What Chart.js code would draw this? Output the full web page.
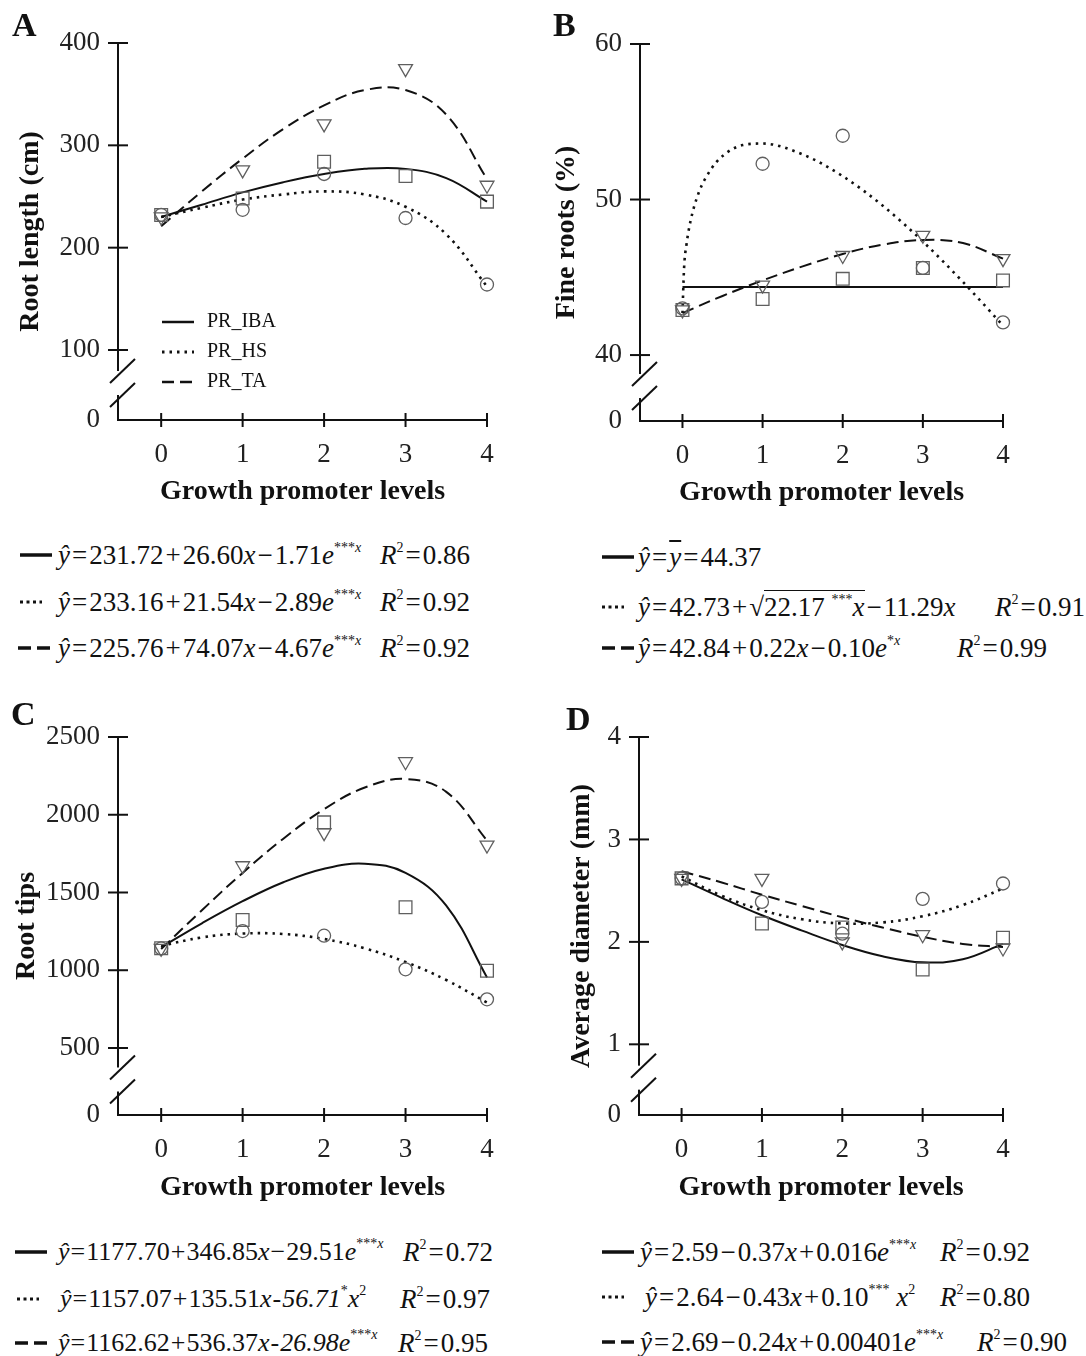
<!DOCTYPE html>
<html>
<head>
<meta charset="utf-8">
<script src="https://cdn.jsdelivr.net/npm/chart.js@4.4.1/dist/chart.umd.min.js"></script>
<style>
  body { margin: 0; background: #fff; }
  #fig { position: relative; width: 1086px; height: 1356px; font-family: 'Liberation Serif', 'Times New Roman', serif; color: #111; overflow: hidden; }
  canvas { position: absolute; }
  .tag { position: absolute; font-size: 34px; font-weight: bold; line-height: 34px; z-index: 2; }
  .eq { position: absolute; font-size: 27px; line-height: 30px; white-space: nowrap; }
  .eq.long { font-size: 26px; }
  .eq sup { font-size: 14px; line-height: 0; vertical-align: 12px; }
  .op { margin: 0 2px; }
  .long .op { margin: 0 1px; }
  .root { border-top: 1.5px solid #111; padding-top: 1px; }
  .smp { position: absolute; }
</style>
</head>
<body>
<div id="fig">
  <canvas id="chartA" width="545" height="520" style="left:0;top:0"></canvas>
  <canvas id="chartB" width="546" height="520" style="left:540px;top:0"></canvas>
  <canvas id="chartC" width="545" height="520" style="left:0;top:690px"></canvas>
  <canvas id="chartD" width="546" height="520" style="left:540px;top:690px"></canvas>

  <div class="tag" style="left:12px;top:8px">A</div>
  <div class="tag" style="left:553px;top:8px">B</div>
  <div class="tag" style="left:11px;top:697px">C</div>
  <div class="tag" style="left:566px;top:702px">D</div>

  <!-- A equations -->
  <div class="eq" style="left:58px;top:540px"><i>ŷ</i><span class="op">=</span>231.72<span class="op">+</span>26.60<i>x</i><span class="op">−</span>1.71<i>e</i><sup>***<i>x</i></sup></div>
  <div class="eq" style="left:380px;top:540px"><i>R</i><sup>2</sup><span class="op">=</span>0.86</div>
  <div class="eq" style="left:58px;top:587px"><i>ŷ</i><span class="op">=</span>233.16<span class="op">+</span>21.54<i>x</i><span class="op">−</span>2.89<i>e</i><sup>***<i>x</i></sup></div>
  <div class="eq" style="left:380px;top:587px"><i>R</i><sup>2</sup><span class="op">=</span>0.92</div>
  <div class="eq" style="left:58px;top:633px"><i>ŷ</i><span class="op">=</span>225.76<span class="op">+</span>74.07<i>x</i><span class="op">−</span>4.67<i>e</i><sup>***<i>x</i></sup></div>
  <div class="eq" style="left:380px;top:633px"><i>R</i><sup>2</sup><span class="op">=</span>0.92</div>

  <!-- B equations -->
  <div class="eq" style="left:638px;top:542px"><i>ŷ</i><span class="op">=</span><i style="text-decoration:overline">y</i><span class="op">=</span>44.37</div>
  <div class="eq" style="left:638px;top:592px"><i>ŷ</i><span class="op">=</span>42.73<span class="op">+</span>√<span class="root">22.17 <sup>***</sup><i>x</i></span><span class="op">−</span>11.29<i>x</i></div>
  <div class="eq" style="left:995px;top:592px"><i>R</i><sup>2</sup><span class="op">=</span>0.91</div>
  <div class="eq" style="left:638px;top:633px"><i>ŷ</i><span class="op">=</span>42.84<span class="op">+</span>0.22<i>x</i><span class="op">−</span>0.10<i>e</i><sup>*<i>x</i></sup></div>
  <div class="eq" style="left:957px;top:633px"><i>R</i><sup>2</sup><span class="op">=</span>0.99</div>

  <!-- C equations -->
  <div class="eq long" style="left:58px;top:1237px"><i>ŷ</i><span class="op">=</span>1177.70<span class="op">+</span>346.85<i>x</i><span class="op">−</span>29.51<i>e</i><sup>***<i>x</i></sup></div>
  <div class="eq" style="left:403px;top:1237px"><i>R</i><sup>2</sup><span class="op">=</span>0.72</div>
  <div class="eq long" style="left:60px;top:1284px"><i>ŷ</i><span class="op">=</span>1157.07<span class="op">+</span>135.51<i>x</i><span class="op">-</span><i>56.71</i><sup>*</sup><i>x</i><sup>2</sup></div>
  <div class="eq" style="left:400px;top:1284px"><i>R</i><sup>2</sup><span class="op">=</span>0.97</div>
  <div class="eq long" style="left:58px;top:1328px"><i>ŷ</i><span class="op">=</span>1162.62<span class="op">+</span>536.37<i>x</i><span class="op">-</span><i>26.98e</i><sup>***<i>x</i></sup></div>
  <div class="eq" style="left:398px;top:1328px"><i>R</i><sup>2</sup><span class="op">=</span>0.95</div>

  <!-- D equations -->
  <div class="eq" style="left:640px;top:1237px"><i>ŷ</i><span class="op">=</span>2.59<span class="op">−</span>0.37<i>x</i><span class="op">+</span>0.016<i>e</i><sup>***<i>x</i></sup></div>
  <div class="eq" style="left:940px;top:1237px"><i>R</i><sup>2</sup><span class="op">=</span>0.92</div>
  <div class="eq" style="left:645px;top:1282px"><i>ŷ</i><span class="op">=</span>2.64<span class="op">−</span>0.43<i>x</i><span class="op">+</span>0.10<sup>***</sup> <i>x</i><sup>2</sup></div>
  <div class="eq" style="left:940px;top:1282px"><i>R</i><sup>2</sup><span class="op">=</span>0.80</div>
  <div class="eq" style="left:640px;top:1327px"><i>ŷ</i><span class="op">=</span>2.69<span class="op">−</span>0.24<i>x</i><span class="op">+</span>0.00401<i>e</i><sup>***<i>x</i></sup></div>
  <div class="eq" style="left:977px;top:1327px"><i>R</i><sup>2</sup><span class="op">=</span>0.90</div>
</div>

<script>
const serif = "'Liberation Serif', 'Times New Roman', serif";

// growth promoter levels and the x positions the fitted curves were read at
const levels = [0, 1, 2, 3, 4];
const fitX = [0, 0.5, 1, 1.5, 2, 2.5, 3, 3.5, 4];

// A - root length (cm)
const rootLengthIBA = [232, 248, 284, 270, 245];
const rootLengthHS = [232, 237, 272, 229, 164];
const rootLengthTA = [230, 276, 321, 375, 261];
const rootLengthFitIBA = [230, 242, 254, 264, 272, 277, 277, 268, 245];
const rootLengthFitHS = [230, 239, 247, 252, 255, 252, 240, 213, 162];
const rootLengthFitTA = [221, 255, 287, 316, 339, 354, 354, 330, 267];
const rootLengthTicks = [100, 200, 300, 400];

// B - fine roots (%)
const fineRootsIBA = [42.9, 43.6, 44.9, 45.6, 44.8];
const fineRootsHS = [43.0, 52.3, 54.1, 45.6, 42.1];
const fineRootsTA = [42.9, 44.5, 46.4, 47.7, 46.2];
const fineRootsFitIBA = [44.37, 44.37, 44.37, 44.37, 44.37, 44.37, 44.37, 44.37, 44.37];
const fineRootsFitHSX = [0, 0.02, 0.05, 0.1, 0.2, 0.35, 0.5, 0.75, 1, 1.5, 2, 2.5, 3, 3.5, 4];
const fineRootsFitHS = [42.7, 45.6, 47.1, 48.6, 50.4, 51.9, 52.8, 53.5, 53.6, 52.9, 51.5, 49.6, 47.3, 44.7, 41.9];
const fineRootsFitTA = [42.7, 43.8, 44.8, 45.7, 46.5, 47.1, 47.4, 47.2, 46.2];
const fineRootsTicks = [40, 50, 60];

// C - root tips
const rootTipsIBA = [1141, 1323, 1951, 1405, 997];
const rootTipsHS = [1140, 1252, 1222, 1006, 813];
const rootTipsTA = [1141, 1672, 1885, 2341, 1805];
const rootTipsFitIBA = [1148, 1302, 1444, 1566, 1653, 1685, 1626, 1415, 954];
const rootTipsFitHS = [1157, 1211, 1236, 1233, 1201, 1141, 1053, 937, 792];
const rootTipsFitTA = [1136, 1386, 1626, 1846, 2036, 2175, 2230, 2147, 1835];
const rootTipsTicks = [500, 1000, 1500, 2000, 2500];

// D - average diameter (mm)
const diameterIBA = [2.62, 2.18, 2.14, 1.73, 2.04];
const diameterHS = [2.62, 2.39, 2.08, 2.42, 2.57];
const diameterTA = [2.62, 2.62, 2.0, 2.07, 1.94];
const diameterFitIBA = [2.61, 2.43, 2.26, 2.11, 1.97, 1.86, 1.80, 1.83, 1.98];
const diameterFitHS = [2.64, 2.45, 2.31, 2.22, 2.18, 2.19, 2.25, 2.36, 2.52];
const diameterFitTA = [2.69, 2.58, 2.46, 2.35, 2.24, 2.14, 2.05, 1.98, 1.95];
const diameterTicks = [1, 2, 3, 4];

const solid = [];
const dotted = [2.5, 5];
const dashed = [12, 6];

// tick marks across the axes and the broken y axis
const axisMarks = {
    id: "axisMarks",
    afterDraw(chart) {
        const { ctx, scales: { x, y } } = chart;
        const left = x.left;
        const bottom = y.bottom;
        ctx.save();
        ctx.strokeStyle = "#111";
        ctx.lineWidth = 2;
        y.ticks.forEach((t) => {
            if (t.value === y.min) return;
            const py = y.getPixelForValue(t.value);
            ctx.beginPath();
            ctx.moveTo(left - 10, py);
            ctx.lineTo(left + 10, py);
            ctx.stroke();
        });
        x.ticks.forEach((t) => {
            const px = x.getPixelForValue(t.value);
            ctx.beginPath();
            ctx.moveTo(px, bottom - 7);
            ctx.lineTo(px, bottom + 7);
            ctx.stroke();
        });
        const first = y.getPixelForValue(y.ticks[1].value);
        const mid = (first + bottom) / 2;
        ctx.fillStyle = "#fff";
        ctx.fillRect(left - 3, mid - 14, 6, 24);
        [mid - 14, mid + 10].forEach((cy) => {
            ctx.beginPath();
            ctx.moveTo(left - 8, cy + 12);
            ctx.lineTo(left + 17, cy - 12);
            ctx.stroke();
        });
        ctx.restore();
    }
};

// legend drawn inside panel A
const seriesLegend = {
    id: "seriesLegend",
    afterDraw(chart) {
        const { ctx, chartArea } = chart;
        const fits = chart.data.datasets.filter((d) => d.showLine);
        ctx.save();
        ctx.font = "20px " + serif;
        ctx.fillStyle = "#111";
        ctx.strokeStyle = "#111";
        ctx.textBaseline = "middle";
        fits.forEach((d, i) => {
            const ly = chartArea.top + 279 + i * 30;
            ctx.lineWidth = d.borderWidth + 0.5;
            ctx.setLineDash(d.borderDash);
            ctx.beginPath();
            ctx.moveTo(chartArea.left + 44, ly);
            ctx.lineTo(chartArea.left + 76, ly);
            ctx.stroke();
            ctx.setLineDash([]);
            ctx.fillText(d.label, chartArea.left + 89, ly);
        });
        ctx.restore();
    }
};

function markerSet(label, values, style, radius) {
    return {
        label: label,
        data: levels.map((x, i) => ({ x: x, y: values[i] })),
        showLine: false,
        pointStyle: style,
        pointRadius: radius,
        pointRotation: style === "triangle" ? 180 : 0,
        borderColor: "#5f5f5f",
        backgroundColor: "rgba(0,0,0,0)",
        pointBorderWidth: 1.3,
        clip: false
    };
}

function fitSet(label, xs, values, dash) {
    // uneven spacing (steep start in panel B) needs monotone interpolation
    const uneven = xs !== fitX;
    return {
        label: label,
        data: xs.map((x, i) => ({ x: x, y: values[i] })),
        showLine: true,
        pointRadius: 0,
        borderColor: "#111",
        borderWidth: dash === dotted ? 2.6 : 2,
        borderDash: dash,
        tension: 0.4,
        cubicInterpolationMode: uneven ? "monotone" : "default",
        fill: false,
        clip: false
    };
}

function makePanel(id, p) {
    const tickFont = { family: serif, size: 27 };
    const titleFont = { family: serif, size: 28, weight: "bold" };
    return new Chart(document.getElementById(id), {
        type: "scatter",
        data: {
            datasets: [
                markerSet("PR_IBA", p.iba, "rect", 9),
                markerSet("PR_HS", p.hs, "circle", 6.5),
                markerSet("PR_TA", p.ta, "triangle", 8),
                fitSet("PR_IBA", p.ibaFitX || fitX, p.ibaFit, solid),
                fitSet("PR_HS", p.hsFitX || fitX, p.hsFit, dotted),
                fitSet("PR_TA", p.taFitX || fitX, p.taFit, dashed)
            ]
        },
        options: {
            responsive: false,
            animation: false,
            events: [],
            layout: { padding: { top: p.top, right: p.right, left: 0, bottom: 0 } },
            plugins: { legend: { display: false }, tooltip: { enabled: false } },
            scales: {
                x: {
                    type: "linear",
                    min: -0.53,
                    max: 4,
                    afterBuildTicks: (s) => { s.ticks = levels.map((v) => ({ value: v })); },
                    afterFit: (s) => { s.height = p.xHeight; },
                    grid: { display: false, drawTicks: false },
                    border: { color: "#111", width: 2 },
                    ticks: { font: tickFont, color: "#222", padding: 19 },
                    title: {
                        display: true,
                        text: "Growth promoter levels",
                        font: titleFont,
                        color: "#111",
                        padding: { top: 0, bottom: p.xTitlePad }
                    }
                },
                y: {
                    type: "linear",
                    min: p.yMin,
                    max: p.ticks[p.ticks.length - 1],
                    afterBuildTicks: (s) => { s.ticks = [p.yMin].concat(p.ticks).map((v) => ({ value: v })); },
                    afterFit: (s) => { s.width = p.yWidth; },
                    grid: { display: false, drawTicks: false },
                    border: { color: "#111", width: 2 },
                    ticks: {
                        font: tickFont,
                        color: "#222",
                        padding: 18,
                        callback: (v) => (v === p.yMin ? "0" : String(v))
                    },
                    title: {
                        display: true,
                        text: p.title,
                        font: titleFont,
                        color: "#111",
                        padding: { top: p.yTitlePad, bottom: 0 }
                    }
                }
            }
        },
        plugins: p.legend ? [axisMarks, seriesLegend] : [axisMarks]
    });
}

makePanel("chartA", {
    title: "Root length (cm)",
    iba: rootLengthIBA, hs: rootLengthHS, ta: rootLengthTA,
    ibaFit: rootLengthFitIBA, hsFit: rootLengthFitHS, taFit: rootLengthFitTA,
    ticks: rootLengthTicks, yMin: 31.6,
    top: 43, right: 58, yWidth: 118, xHeight: 100, yTitlePad: 14, xTitlePad: 11,
    legend: true
});

makePanel("chartB", {
    title: "Fine roots (%)",
    iba: fineRootsIBA, hs: fineRootsHS, ta: fineRootsTA,
    ibaFit: fineRootsFitIBA, hsFit: fineRootsFitHS, hsFitX: fineRootsFitHSX, taFit: fineRootsFitTA,
    ticks: fineRootsTicks, yMin: 35.76,
    top: 44, right: 83, yWidth: 100, xHeight: 99, yTitlePad: 10, xTitlePad: 10
});

makePanel("chartC", {
    title: "Root tips",
    iba: rootTipsIBA, hs: rootTipsHS, ta: rootTipsTA,
    ibaFit: rootTipsFitIBA, hsFit: rootTipsFitHS, taFit: rootTipsFitTA,
    ticks: rootTipsTicks, yMin: 69,
    top: 47, right: 58, yWidth: 118, xHeight: 95, yTitlePad: 10, xTitlePad: 5
});

makePanel("chartD", {
    title: "Average diameter (mm)",
    iba: diameterIBA, hs: diameterHS, ta: diameterTA,
    ibaFit: diameterFitIBA, hsFit: diameterFitHS, taFit: diameterFitTA,
    ticks: diameterTicks, yMin: 0.31,
    top: 47, right: 83, yWidth: 99, xHeight: 95, yTitlePad: 25, xTitlePad: 5
});

// line samples in front of each equation: [left, centre y, style]
const samples = [
    [20, 555, solid], [20, 602, dotted], [18, 648, dashed],
    [602, 557, solid], [602, 607, dotted], [602, 648, dashed],
    [15, 1252, solid], [17, 1299, dotted], [15, 1343, dashed],
    [602, 1252, solid], [602, 1297, dotted], [602, 1342, dashed]
];
const fig = document.getElementById("fig");
samples.forEach(([left, cy, dash]) => {
    const ns = "http://www.w3.org/2000/svg";
    const svg = document.createElementNS(ns, "svg");
    svg.setAttribute("class", "smp");
    svg.setAttribute("width", "34");
    svg.setAttribute("height", "14");
    svg.style.left = left + "px";
    svg.style.top = (cy - 7) + "px";
    const line = document.createElementNS(ns, "line");
    line.setAttribute("x1", "0");
    line.setAttribute("x2", dash === dotted ? "22" : "32");
    line.setAttribute("y1", "7");
    line.setAttribute("y2", "7");
    line.setAttribute("stroke", "#111");
    line.setAttribute("stroke-width", dash === dotted ? "3" : "3.5");
    if (dash === dotted) line.setAttribute("stroke-dasharray", "3 3.5");
    if (dash === dashed) line.setAttribute("stroke-dasharray", "13 6");
    svg.appendChild(line);
    fig.appendChild(svg);
});
</script>
</body>
</html>
